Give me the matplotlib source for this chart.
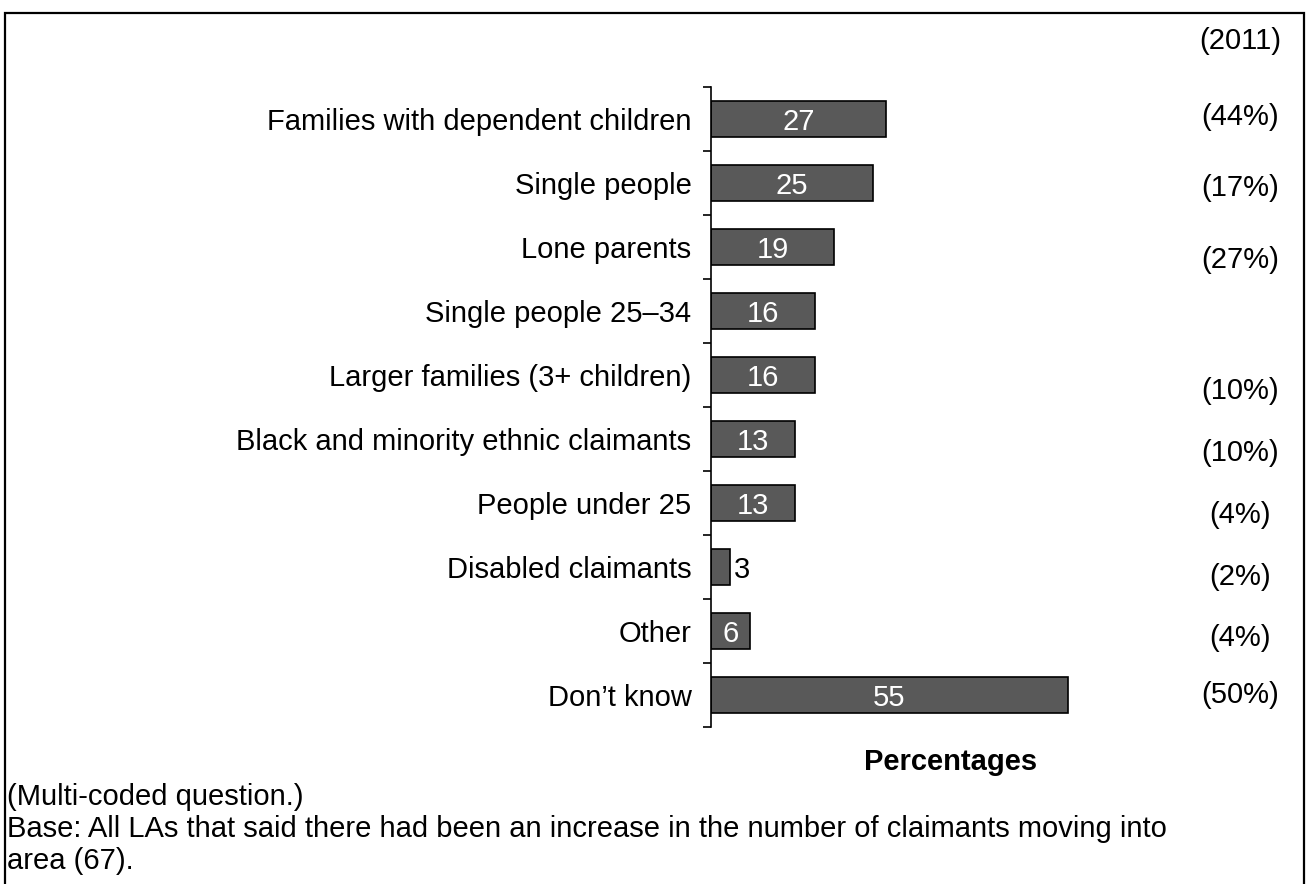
import matplotlib
matplotlib.use("Agg")
import matplotlib.pyplot as plt
from matplotlib.patches import Rectangle

plt.rcParams['font.family'] = ['Liberation Sans', 'DejaVu Sans']

categories = [
    "Families with dependent children",
    "Single people",
    "Lone parents",
    "Single people 25\u201334",
    "Larger families (3+ children)",
    "Black and minority ethnic claimants",
    "People under 25",
    "Disabled claimants",
    "Other",
    "Don\u2019t know",
]
values = [27, 25, 19, 16, 16, 13, 13, 3, 6, 55]
values_2011 = ["(44%)", "(17%)", "(27%)", "", "(10%)", "(10%)", "(4%)", "(2%)", "(4%)", "(50%)"]
# vertical offsets (in row units) of the 2011 labels as drawn in the original
offsets_2011 = [-0.03, 0.08, 0.2, 0.0, 0.25, 0.22, 0.19, 0.16, 0.11, 0.0]

FS = 21
W, H = 1306, 884
fig = plt.figure(figsize=(W / 100, H / 100), dpi=100)

ax_left, ax_right = 711, 711 + 60 * 6.49
ax_top, ax_bot = 87, 727
ax = fig.add_axes([ax_left / W, 1 - ax_bot / H, (ax_right - ax_left) / W, (ax_bot - ax_top) / H])

n = len(categories)
ypos = list(range(n))
ax.barh(ypos, values, height=0.57, color="#595959", edgecolor="black", linewidth=1.2)
ax.set_xlim(0, 60)
ax.set_ylim(n - 0.5, -0.5)

for y, v in zip(ypos, values):
    if v >= 5:
        ax.text(v / 2, y, str(v), ha="center", va="center_baseline", color="white", fontsize=FS)
    else:
        ax.text(v + 0.6, y, str(v), ha="left", va="center_baseline", color="black", fontsize=FS)

for s in ["top", "right", "bottom"]:
    ax.spines[s].set_visible(False)
ax.spines["left"].set_linewidth(1.2)
ax.set_xticks([])
ax.set_yticks(ypos)
ax.set_yticklabels(categories, fontsize=FS)
ax.tick_params(axis="y", which="major", length=0, pad=14)
ax.set_yticks([i - 0.5 for i in range(n + 1)], minor=True)
ax.tick_params(axis="y", which="minor", length=6, width=1.2, direction="out")

# 2011 comparison column
xr = 1240 / W
fig.text(xr, 1 - 41 / H, "(2011)", ha="center", va="center", fontsize=FS)
for y, lab, off in zip(ypos, values_2011, offsets_2011):
    if lab:
        yy = ax_top + (y + 0.5 + off) * (ax_bot - ax_top) / n
        fig.text(xr, 1 - yy / H, lab, ha="center", va="center", fontsize=FS)

fig.text(951 / W, 1 - 762 / H, "Percentages", ha="center", va="center", fontsize=FS, fontweight="bold")
fig.text(7 / W, 1 - 797 / H, "(Multi-coded question.)", ha="left", va="center", fontsize=FS)
fig.text(7 / W, 1 - 829 / H,
         "Base: All LAs that said there had been an increase in the number of claimants moving into",
         ha="left", va="center", fontsize=FS)
fig.text(7 / W, 1 - 861 / H, "area (67).", ha="left", va="center", fontsize=FS)

fig.patches.append(Rectangle((5 / W, -0.01), (W - 7) / W, 1.01 - 13 / H,
                             transform=fig.transFigure, fill=False, edgecolor="black",
                             linewidth=1.6))

fig.savefig("out.png", dpi=100)
